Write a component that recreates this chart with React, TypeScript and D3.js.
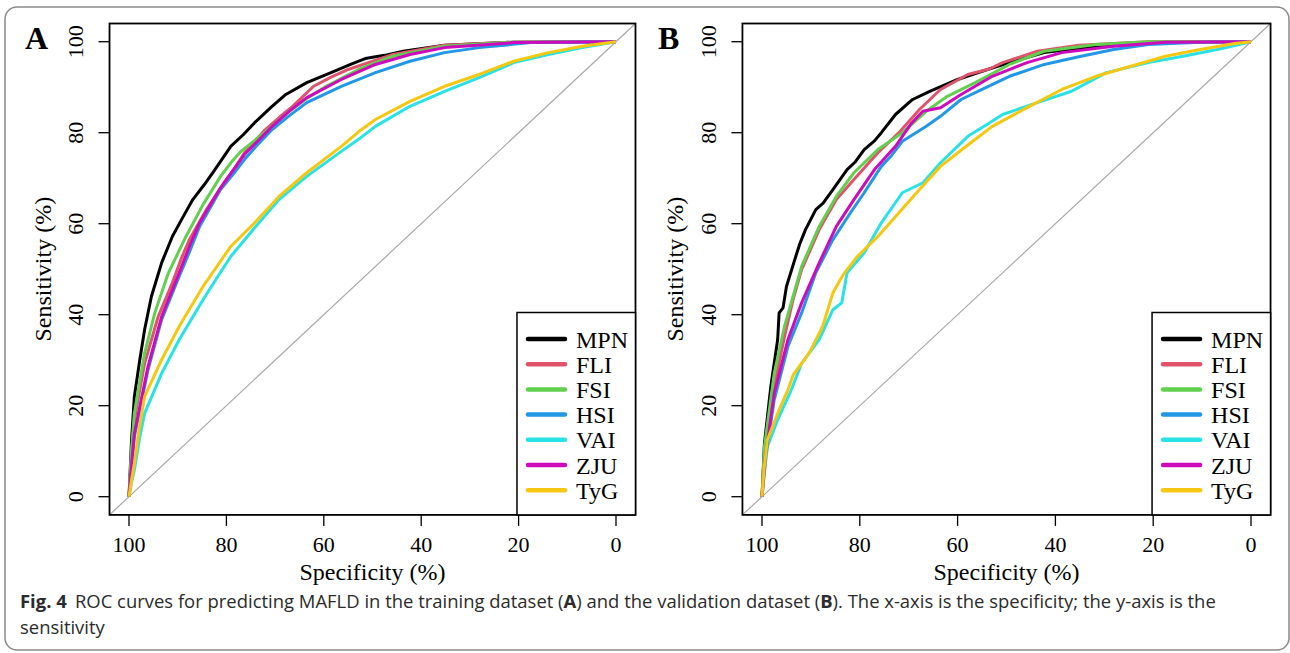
import React, { useLayoutEffect, useRef, useState } from 'react';
import * as d3 from 'd3';

// series order and colours (R 4 default palette)
const seriesNames = ['MPN', 'FLI', 'FSI', 'HSI', 'VAI', 'ZJU', 'TyG'];
const seriesColors = ['#000000', '#DF536B', '#61D04F', '#2297E6', '#28E2E5', '#CD0BBC', '#F5C710'];
const axisTicks = [0, 20, 40, 60, 80, 100];

// training dataset (A): [specificity, sensitivity]
const trainMPN = [[100, 0], [99.5, 12], [98.9, 22], [97.8, 30], [96.8, 36.7], [95.4, 44], [93.3, 51.4], [91.1, 57.2], [88.9, 61.5], [86.9, 65.3], [84.6, 68.5], [82.6, 71.5], [79.1, 77], [76.5, 79.6], [74.2, 82.2], [70.8, 85.6], [67.8, 88.4], [63.5, 91], [57.9, 93.5], [54.5, 95], [51.5, 96.3], [47.5, 97], [43.7, 97.9], [35.2, 99.2], [21, 99.9], [0, 100]];
const trainFLI = [[100, 0], [99.5, 9], [98.9, 16.9], [96.8, 29.3], [94, 39.6], [91.1, 47], [89.2, 52.5], [87.6, 56.5], [84.1, 63.1], [80.5, 69], [78.2, 72.4], [76.3, 75.6], [72, 80.7], [69, 83.5], [66.4, 85.8], [62.1, 90.2], [58.5, 92.2], [55, 93.9], [45.8, 97.2], [35.2, 99.2], [21, 99.9], [0, 100]];
const trainFSI = [[100, 0], [99.5, 10], [98.9, 18.3], [96.8, 31.5], [94.7, 40.4], [91.9, 49.2], [88.3, 57.2], [84.8, 64.2], [81.2, 70.4], [79, 73.5], [77, 75.9], [72.7, 79.6], [67.1, 84.7], [63.5, 87.5], [60, 89.9], [52.9, 93.9], [45.8, 96.8], [35.2, 99], [21, 99.9], [0, 100]];
const trainHSI = [[100, 0], [99.5, 6], [98.9, 13.2], [96.1, 27.9], [93.3, 38.9], [89.7, 48.4], [87.5, 54], [85.5, 59.4], [81.2, 67.5], [78.5, 71], [76.3, 74.1], [73.4, 77.6], [70.6, 80.7], [67, 83.8], [63.5, 86.6], [56.4, 90.2], [49.4, 93.2], [42.3, 95.7], [35.2, 97.6], [28.1, 98.7], [17.5, 99.8], [0, 100]];
const trainVAI = [[100, 0], [99.5, 3], [98.9, 5.9], [97.8, 13], [96.8, 18.3], [93.3, 27.1], [89.7, 34.5], [84.8, 43.3], [82, 48], [79.1, 52.8], [74.2, 59.1], [69.2, 65.3], [63.5, 70.4], [56.4, 75.9], [52.8, 78.6], [49.4, 81.4], [42.3, 85.8], [35.2, 89.1], [28.1, 92.1], [21, 95.4], [13.9, 97.2], [6.9, 98.7], [0, 100]];
const trainZJU = [[100, 0], [99.5, 6.5], [98.9, 13.9], [96.1, 28.6], [93.3, 39.6], [89.7, 49.2], [87.6, 55], [85.5, 60.2], [81.2, 67.9], [76.3, 75.2], [70.6, 81.4], [67, 84.8], [63.5, 87.7], [56.4, 91.7], [49.4, 95], [42.3, 97.2], [35.2, 98.7], [21, 99.8], [0, 100]];
const trainTyG = [[100, 0], [99.5, 3.5], [98.9, 7.3], [97.9, 15], [96.8, 22], [93.3, 30.1], [89.7, 37.4], [84.8, 46.2], [79.1, 55], [74.2, 60.2], [69.2, 66], [63.5, 71.2], [56.4, 77], [52.5, 80.5], [49.4, 82.9], [42.3, 86.9], [35.2, 90.2], [28.1, 92.8], [21, 95.7], [13.9, 97.6], [6.9, 99], [0, 100]];

// validation dataset (B)
const validMPN = [[100, 0], [99.5, 11.7], [98.2, 24.2], [96.8, 34.5], [96.5, 40.4], [95.7, 41.5], [95, 46.2], [93.3, 52.1], [92.3, 55.5], [91.1, 58.7], [89, 63.1], [87.5, 64.5], [85.5, 67.5], [82.6, 71.9], [81, 73.5], [79.1, 76.3], [77, 78.2], [75.6, 80], [72.7, 84], [69.2, 87.3], [65.7, 89.1], [60, 91.7], [55, 93.5], [49.4, 95.4], [42.3, 97.6], [31.7, 99], [21, 99.9], [0, 100]];
const validFLI = [[100, 0], [99.5, 9.5], [97.5, 24.2], [95.4, 35.2], [93.6, 43.5], [91.9, 49.9], [88.3, 58.7], [84.8, 65.3], [81.2, 69.7], [76.3, 75.6], [72, 80], [67.8, 85.1], [63.5, 89.5], [57.9, 92.8], [53.5, 94], [50.8, 95.4], [43.7, 97.9], [35.2, 99.2], [21, 100], [0, 100]];
const validFSI = [[100, 0], [99.5, 11], [97.5, 27.1], [95.4, 37.4], [91.9, 50.6], [88.3, 59.4], [84.8, 66], [81.2, 71.2], [76.3, 76.3], [71.3, 80], [66.4, 84.7], [62.1, 88], [56.4, 91], [49.4, 95], [42.3, 97.9], [31.7, 99.4], [21, 100], [0, 100]];
const validHSI = [[100, 0], [99.3, 8.1], [97.5, 21.3], [94.7, 33], [91.9, 40.4], [89, 49.2], [85.5, 56.5], [81.9, 62.4], [79.1, 66.8], [75.6, 72.6], [73.5, 75], [71.3, 78.1], [66.4, 81.4], [63.5, 83.6], [59.3, 87.3], [55, 89.5], [49.4, 92.4], [42.3, 95], [35.2, 96.7], [28.1, 98.3], [21, 99.4], [10.4, 99.9], [0, 100]];
const validVAI = [[100, 0], [99.6, 4.4], [98.9, 11], [96.8, 16.9], [94, 23.5], [91.9, 29.3], [88.3, 34.5], [85.5, 41.1], [83.7, 42.6], [82.6, 49.2], [79.1, 53.6], [75.6, 60.2], [71.3, 66.8], [67.1, 69], [63.5, 73.4], [57.9, 79.2], [54, 81.8], [50.8, 84], [43.7, 86.6], [36.7, 89.1], [29.6, 93.2], [21, 95.4], [13.9, 96.8], [6.9, 98.3], [0, 100]];
const validZJU = [[100, 0], [99.3, 8.8], [97.5, 22.7], [94.7, 34.5], [91.9, 42.6], [88.3, 51.4], [84.8, 59.4], [81.2, 65.3], [77, 71.9], [72.7, 77], [69.5, 82], [67.1, 84.7], [63.5, 85.5], [59.3, 88.4], [52.9, 92.4], [45.8, 95.4], [38.7, 97.6], [28.1, 99], [17.5, 99.9], [0, 100]];
const validTyG = [[100, 0], [99.6, 5.9], [98.9, 12.5], [96.8, 18.3], [94.7, 23.5], [93.6, 26.8], [90.4, 31.5], [87.6, 37.4], [85.5, 44.8], [83.4, 48.8], [80.5, 52.8], [76.3, 57.2], [72, 62.4], [67.8, 67.5], [63.5, 72.6], [57.9, 77.3], [52.9, 81.4], [45.8, 85.5], [38.7, 89.5], [31.7, 92.4], [24.6, 94.6], [17.5, 96.8], [10.4, 98.3], [3.3, 99.6], [0, 100]];

const trainCurves = [trainMPN, trainFLI, trainFSI, trainHSI, trainVAI, trainZJU, trainTyG];
const validCurves = [validMPN, validFLI, validFSI, validHSI, validVAI, validZJU, validTyG];

const serif = '"Liberation Serif", "Times New Roman", serif';
const sans = '"Open Sans", "Noto Sans", sans-serif';

function RocPanel({ letter, curves, x0, x1 }) {
  const x = d3.scaleLinear().domain([100, 0]).range([x0, x1]);
  const y = d3.scaleLinear().domain([0, 100]).range([496.7, 41.7]);
  const left = x(104), right = x(-4), top = y(104), bottom = y(-4);
  const midX = (left + right) / 2, midY = (top + bottom) / 2;
  const line = d3.line().x(d => x(d[0])).y(d => y(d[1]));

  const legW = 118.5, legTop = 312.5;
  const legLeft = right - legW;

  return (
    <g>
      <text x={left - 84.5} y={49} fontFamily={serif} fontSize={32} fontWeight="bold">{letter}</text>

      {/* chance line */}
      <line x1={left} y1={bottom} x2={right} y2={top} stroke="#A9A9A9" strokeWidth={1.2} />

      {curves.map((c, i) => (
        <path key={seriesNames[i]} d={line(c)} fill="none" stroke={seriesColors[i]}
          strokeWidth={3} strokeLinejoin="round" />
      ))}

      {/* x axis */}
      {axisTicks.map(t => (
        <g key={'x' + t}>
          <line x1={x(t)} x2={x(t)} y1={bottom} y2={bottom + 11} stroke="#000" strokeWidth={1.3} />
          <text x={x(t)} y={552} fontFamily={serif} fontSize={22} textAnchor="middle">{t}</text>
        </g>
      ))}
      <text x={midX} y={580} fontFamily={serif} fontSize={24} textAnchor="middle">Specificity (%)</text>

      {/* y axis */}
      {axisTicks.map(t => (
        <g key={'y' + t}>
          <line x1={left - 11} x2={left} y1={y(t)} y2={y(t)} stroke="#000" strokeWidth={1.3} />
          <text transform={`translate(${left - 26.5},${y(t)}) rotate(-90)`} fontFamily={serif} fontSize={22} textAnchor="middle">{t}</text>
        </g>
      ))}
      <text transform={`translate(${left - 59},${midY}) rotate(-90)`} fontFamily={serif} fontSize={24} textAnchor="middle">Sensitivity (%)</text>

      <rect x={left} y={top} width={right - left} height={bottom - top} fill="none" stroke="#000" strokeWidth={1.8} />

      {/* legend */}
      <rect x={legLeft} y={legTop} width={legW} height={bottom - legTop} fill="#fff" stroke="#000" strokeWidth={1.5} />
      {seriesNames.map((n, i) => {
        const ly = legTop + 26.5 + i * 25.2;
        return (
          <g key={'l' + n}>
            <line x1={legLeft + 11} x2={legLeft + 48} y1={ly} y2={ly} stroke={seriesColors[i]} strokeWidth={4.5} strokeLinecap="round" />
            <text x={legLeft + 59} y={ly + 8.5} fontFamily={serif} fontSize={24}>{n}</text>
          </g>
        );
      })}
    </g>
  );
}

export default function App() {
  const line1Ref = useRef(null);
  const [sx, setSx] = useState(1);

  // squeeze the caption so line 1 spans the same width as in the figure
  useLayoutEffect(() => {
    if (!line1Ref.current) return;
    const w = line1Ref.current.getComputedTextLength();
    if (w > 0) setSx(1188 / w);
  }, []);

  return (
    <svg width={1290} height={653} style={{ position: 'absolute', left: 0, top: 0, background: '#fff' }}>
      <rect x={5} y={7} width={1284} height={643} rx={12} fill="#fff" stroke="#8a8a8a" strokeWidth={1.5} />
      <RocPanel letter="A" curves={trainCurves} x0={129} x1={616} />
      <RocPanel letter="B" curves={validCurves} x0={762} x1={1251} />
      <g transform={`translate(20,0) scale(${sx},1)`} fontFamily={sans} fontSize={18} fill="#2b2b2b">
        <text ref={line1Ref} x={0} y={608}>
          <tspan fontWeight="bold">Fig. 4</tspan>
          <tspan dx={8}>ROC curves for predicting MAFLD in the training dataset (</tspan>
          <tspan fontWeight="bold">A</tspan>
          <tspan>) and the validation dataset (</tspan>
          <tspan fontWeight="bold">B</tspan>
          <tspan>). The x-axis is the specificity; the y-axis is the</tspan>
        </text>
        <text x={0} y={634}>sensitivity</text>
      </g>
    </svg>
  );
}
